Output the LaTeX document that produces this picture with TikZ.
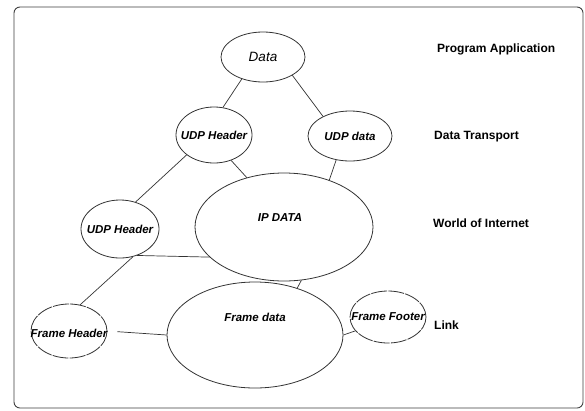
\documentclass[tikz,border=0pt]{standalone}
\usepackage{fontspec}
\setmainfont{Liberation Sans}
\usetikzlibrary{shapes.geometric}
\tikzstyle{bubble} = [ellipse, draw=black!80, line width=0.8pt, inner sep=0pt]
\tikzstyle{rough} = [bubble, dash pattern=on 16pt off 1.2pt]
\tikzstyle{inlbl} = [inner sep=0pt, font=\fontsize{11.5}{13}\selectfont\bfseries\itshape]
\tikzstyle{layer} = [anchor=west, inner sep=0pt, font=\fontsize{12}{14}\selectfont\bfseries]
\tikzstyle{link} = [draw=black!80, line width=0.7pt]

\begin{document}
\begin{tikzpicture}[x=1pt, y=-1pt]
\useasboundingbox [fill=white] (0,0) rectangle (585,410);
\draw [black!75, line width=0.9pt, rounded corners=6pt] (14,7) rectangle (583,408);

\node (data) [bubble, minimum width=84pt, minimum height=50pt,
  label={[inner sep=0pt, font=\fontsize{13.5}{15}\selectfont\itshape]center:Data}] at (263,57) {};
\node (udph1) [bubble, minimum width=76pt, minimum height=56pt,
  label={[inlbl]center:UDP Header}] at (214,135) {};
\node (udpd) [bubble, minimum width=84pt, minimum height=50pt,
  label={[inlbl]center:UDP data}] at (350,136) {};
\node (udph2) [bubble, minimum width=78pt, minimum height=58pt,
  label={[inlbl]center:UDP Header}] at (120,229) {};
\node (ipdata) [bubble, minimum width=178pt, minimum height=108pt,
  label={[inlbl, xshift=-4pt, yshift=9pt]center:IP DATA}] at (284,227) {};
\node (fdata) [bubble, minimum width=176pt, minimum height=106pt,
  label={[inlbl, yshift=18pt]center:Frame data}] at (255,335) {};
\node (fhead) [rough, minimum width=76pt, minimum height=54pt,
  label={[inlbl, yshift=-2pt]center:Frame Header}] at (69,331) {};
\node (ffoot) [rough, minimum width=76pt, minimum height=52pt,
  label={[inlbl]center:Frame Footer}] at (388,317) {};

% layers
\node (app) [layer] at (437,49) {Program Application};
\node (trans) [layer] at (434,137) {Data Transport};
\node (inet) [layer] at (433,223) {World of Internet};
\node (lnk) [layer] at (434,325) {Link};

\draw [link] (data.226) -- (udph1.72);
\draw [link] (data.328) -- (udpd.144);
\draw [link] (udph1.216) -- (udph2.60);
\draw [link] (udph1.304) -- (ipdata.127);
\draw [link] (udpd.240) -- (ipdata.46);
\draw [link] (udph2.303) -- (ipdata.202);
\draw [link] (udph2.295) -- (fhead.67);
\draw [link] (ipdata.288) -- (fdata.48);
\draw [link, shorten <=10pt] (fhead.east) -- (fdata.west);
\draw [link] (fdata.east) -- (ffoot.203);

\end{tikzpicture}
\end{document}
